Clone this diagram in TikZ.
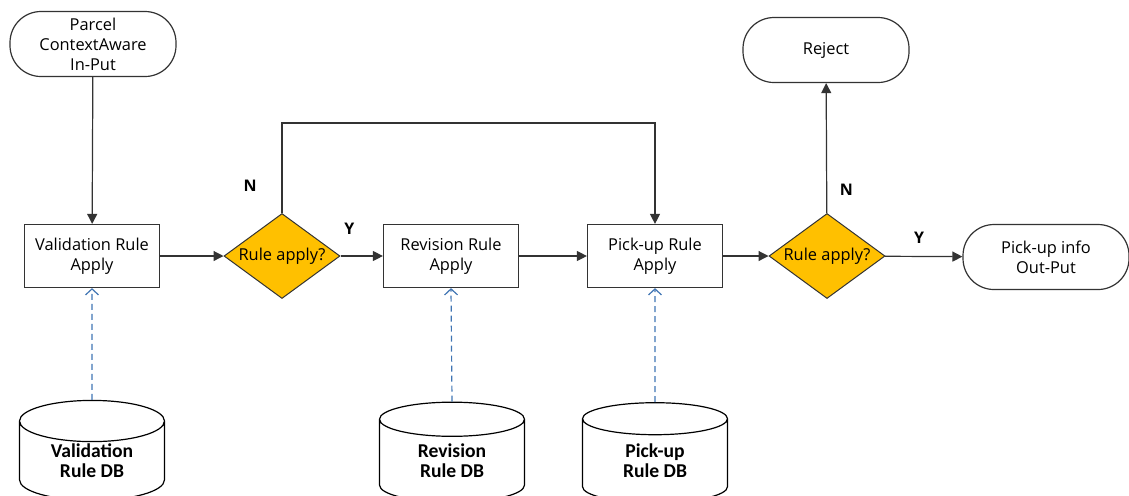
\documentclass[tikz,border=0pt]{standalone}
\usepackage{fontspec}
\newfontfamily\boxfont{Open Sans}
\newfontfamily\dbfont{Carlito}
\usepackage{xcolor}
\usepackage{tikz}
\usetikzlibrary{arrows.meta, positioning, shapes.geometric}

\definecolor{linegray}{HTML}{333333}
\definecolor{decgold}{HTML}{FFC000}
\definecolor{dashblue}{HTML}{3F74B3}

\begin{document}
\begin{tikzpicture}[x=0.5pt, y=-0.5pt,
  font=\boxfont\fontsize{8.2}{10}\selectfont,
  proc/.style={draw=linegray, line width=0.6pt, fill=white, minimum width=67.5pt,
    minimum height=31.5pt, inner sep=0pt, align=center},
  term/.style={draw=linegray, line width=0.6pt, fill=white, rounded corners=15.5pt,
    minimum width=83pt, minimum height=32.5pt, inner sep=0pt, align=center},
  decide/.style={diamond, draw=linegray, line width=0.5pt, fill=decgold, minimum width=58pt,
    minimum height=42.5pt, inner sep=0pt, aspect=1.36},
  db/.style={cylinder, shape border rotate=90, draw=black, line width=0.6pt, fill=white,
    aspect=0.5, minimum width=72.5pt, minimum height=50pt, inner sep=0pt, align=center,
    font=\dbfont\bfseries\fontsize{9.8}{10}\selectfont},
  flow/.style={draw=linegray, line width=0.6pt, -{Triangle[length=5pt, width=5pt]}},
  dbflow/.style={draw=dashblue, line width=0.6pt, dash pattern=on 3pt off 2pt,
    -{Straight Barb[length=3pt, width=6.5pt]}},
  yn/.style={font=\boxfont\bfseries\fontsize{8}{10}\selectfont, text=black}
]
  \useasboundingbox (0,0) rectangle (1129,495);
  \clip (0,0) rectangle (1129,495);

  % terminals
  \node[term] (in)     at (93,44)    {Parcel\\ContextAware\\In-Put};
  \node[term] (reject) at (826,50)   {Reject};
  \node[term] (out)    at (1046,257) {Pick-up info\\Out-Put};

  % process boxes
  \node[proc] (val)  at (92,256)  {Validation Rule\\Apply};
  \node[proc] (rev)  at (451,256) {Revision Rule\\Apply};
  \node[proc] (pick) at (655,256) {Pick-up Rule\\Apply};

  % decisions
  \node[decide] (chk1) at (282,256) {Rule apply?};
  \node[decide] (chk2) at (827,256) {Rule apply?};

  % rule databases
  \node[db] (valdb)  at (92,461)  {Validation\\Rule DB};
  \node[db] (revdb)  at (452,461) {Revision\\Rule DB};
  \node[db] (pickdb) at (655,461) {Pick-up\\Rule DB};

  % main flow
  \draw[flow] (in) -- (val);
  \draw[flow] (val) -- (chk1);
  \draw[flow] (chk1) -- node[yn, pos=0.21, above=7pt] {Y} (rev);
  \draw[flow] (rev) -- (pick);
  \draw[flow] (pick) -- (chk2);
  \draw[flow] (chk2) -- node[yn, pos=0.44, above=3pt] {Y} (out);
  \draw[flow] (chk2) -- node[yn, pos=0.18, right=3pt] {N} (reject);
  \draw[flow] (chk1.north) -- node[yn, pos=0.3, left=9pt] {N} ++(0,-90) -| (pick.north);

  % rule lookups
  \draw[dbflow] (valdb.north) -- (val.south);
  \draw[dbflow] (revdb.north) -- (rev.south);
  \draw[dbflow] (pickdb.north) -- (pick.south);
\end{tikzpicture}
\end{document}
